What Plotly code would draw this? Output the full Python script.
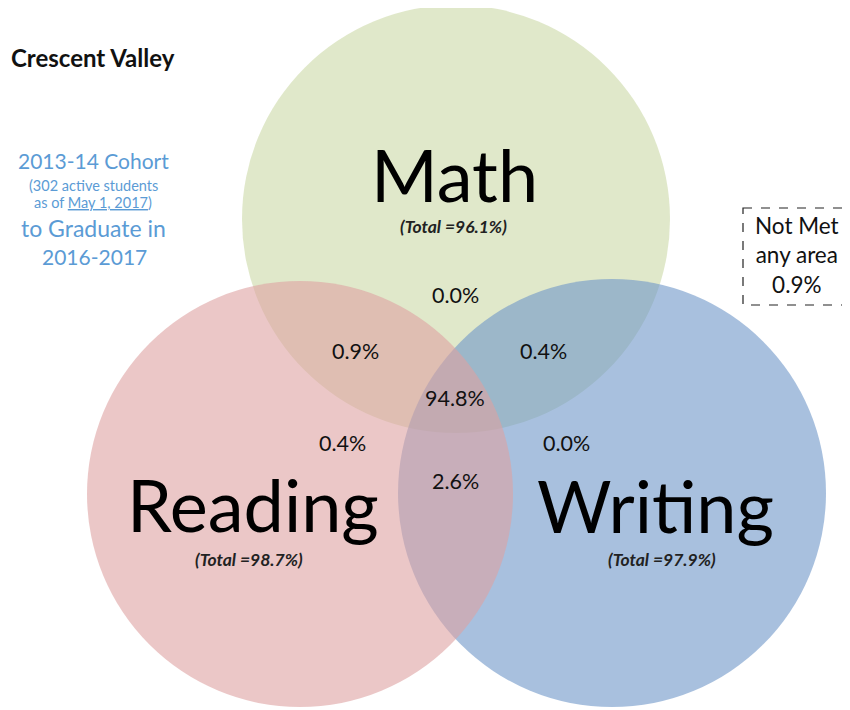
import plotly.graph_objects as go

# ---------------- data ----------------
school = "Crescent Valley"
set_names = ["Math", "Reading", "Writing"]
set_totals = [96.1, 98.7, 97.9]
region_names = ["Math only", "Math & Reading", "Math & Writing", "All three",
                "Reading only", "Writing only", "Reading & Writing"]
region_values = [0.0, 0.9, 0.4, 94.8, 0.4, 0.0, 2.6]
not_met_value = 0.9

# ---------------- layout (pixel coordinates) ----------------
W, H = 850, 710
OFF = 8  # page body margin compensation
circle_geom = {  # center x, center y, radius
    "Math": (456, 219, 214),
    "Reading": (300, 494, 213),
    "Writing": (612, 493, 214),
}
circle_fill = {
    "Math": "rgba(203,217,167,0.6)",
    "Writing": "rgba(110,150,200,0.6)",
    "Reading": "rgba(222,162,162,0.6)",
}
draw_order = ["Math", "Writing", "Reading"]
name_pos = {"Math": (454, 174), "Reading": (253, 504), "Writing": (655, 505)}
total_pos = {"Math": (453, 226), "Reading": (249, 559), "Writing": (662, 559)}
region_pos = [(455, 295), (355, 351), (543, 351), (455, 398),
              (342, 443), (566, 443), (455, 481)]

FONT = "Lato, 'Open Sans', sans-serif"

fig = go.Figure()
fig.add_trace(go.Scatter(x=[0, W], y=[0, H], mode="markers",
                         marker=dict(opacity=0), hoverinfo="skip", showlegend=False))

shapes = []
for name in draw_order:
    cx, cy, r = circle_geom[name]
    shapes.append(dict(type="circle", xref="x", yref="y",
                       x0=cx - r, x1=cx + r, y0=cy - r, y1=cy + r,
                       fillcolor=circle_fill[name], line=dict(width=0), layer="below"))
shapes.append(dict(type="rect", xref="x", yref="y", x0=743, x1=847, y0=208, y1=305,
                   line=dict(color="#222222", width=1.2, dash="dash"),
                   fillcolor="rgba(0,0,0,0)"))

ann = []
def add(text, x, y, size, color="#111111", **kw):
    ann.append(dict(text=text, x=x, y=y, xref="x", yref="y", showarrow=False,
                    font=dict(family=FONT, size=size, color=color),
                    xanchor=kw.get("xanchor", "center"), yanchor="middle",
                    align=kw.get("align", "center")))

add("<b>" + school + "</b>", 9, 57, 24, xanchor="left", align="left")

blue = "#5B9BD5"
add("2013-14 Cohort", 93, 160, 21, blue)
add("(302 active students", 93, 185, 14.5, blue)
add("as of <u>May 1, 2017</u>)", 93, 202, 14.5, blue)
add("to Graduate in", 93, 228, 23, blue)
add("2016-2017", 94, 256, 21, blue)

for name, total in zip(set_names, set_totals):
    x, y = name_pos[name]
    add(name, x, y, 72, "#000000")
    tx, ty = total_pos[name]
    add("<b><i>(Total =%.1f%%)</i></b>" % total, tx, ty, 17.5, "#222222")

for (x, y), v in zip(region_pos, region_values):
    add("%.1f%%" % v, x, y, 21.5, "#111111")

add("Not Met<br>any area<br>%.1f%%" % not_met_value, 797, 255, 22.5, "#111111")

fig.update_layout(
    width=W, height=H, margin=dict(l=0, r=0, t=0, b=0),
    paper_bgcolor="white", plot_bgcolor="white",
    xaxis=dict(range=[OFF, W + OFF], visible=False, fixedrange=True),
    yaxis=dict(range=[H + OFF, OFF], visible=False, fixedrange=True),
    shapes=shapes, annotations=ann, showlegend=False,
)
fig.write_html("out.html")
